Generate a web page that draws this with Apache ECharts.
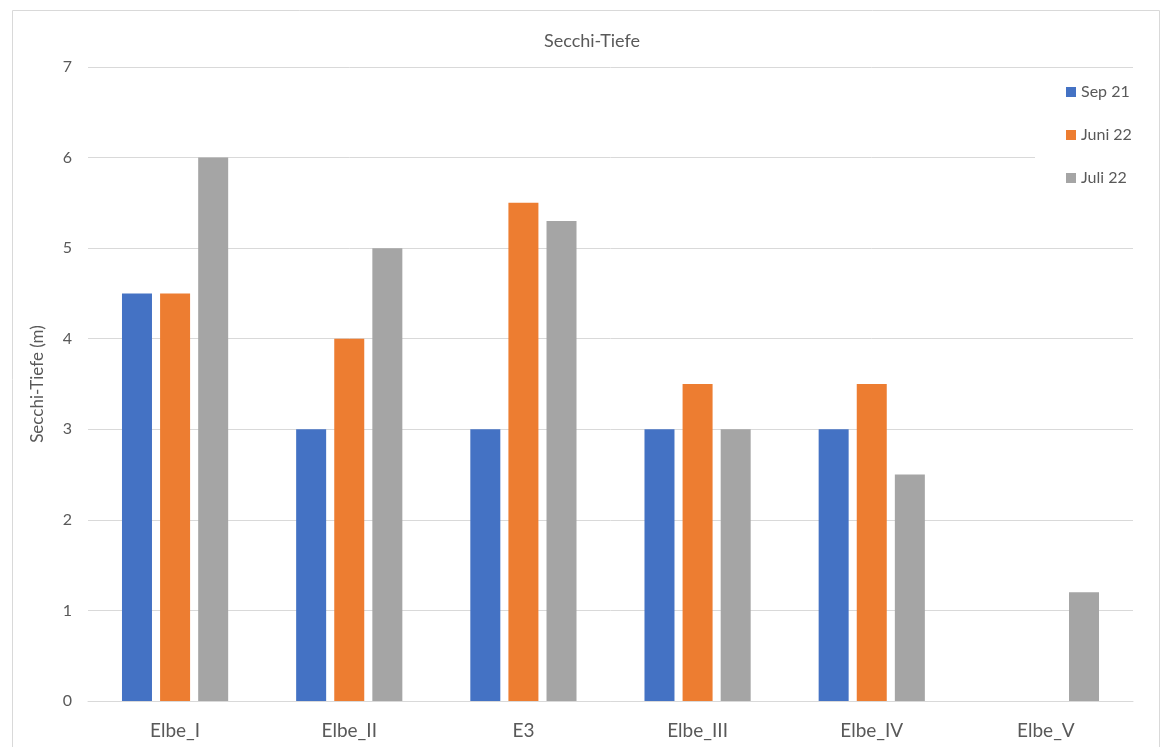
<!DOCTYPE html>
<html><head><meta charset="utf-8">
<script src="https://cdn.jsdelivr.net/npm/echarts@6/dist/echarts.min.js"></script>
<style>html,body{margin:0;padding:0;background:#fff}#c{width:1162px;height:747px}</style>
</head><body><div id="c"></div>
<script>
const categories = ['Elbe_I', 'Elbe_II', 'E3', 'Elbe_III', 'Elbe_IV', 'Elbe_V'];
const sep21 = [4.5, 3, 3, 3, 3, null];
const juni22 = [4.5, 4, 5.5, 3.5, 3.5, null];
const juli22 = [6, 5, 5.3, 3, 2.5, 1.2];
const seriesNames = ['Sep 21', 'Juni 22', 'Juli 22'];
const colors = ['#4472C4', '#ED7D31', '#A5A5A5'];
const font = 'Lato, "Open Sans", sans-serif';
const chart = echarts.init(document.getElementById('c'), null, {renderer: 'canvas'});
const dataSets = [sep21, juni22, juli22];
chart.setOption({
  animation: false,
  color: colors,
  graphic: [{type: 'rect', left: 10, top: 8, shape: {width: 1147, height: 760}, style: {fill: 'none', stroke: '#D9D9D9', lineWidth: 1}, silent: true}],
  title: {text: 'Secchi-Tiefe', left: 587, textAlign: 'center', top: 27, textStyle: {fontFamily: font, fontSize: 18, fontWeight: 'normal', color: '#595959'}},
  legend: {orient: 'vertical', left: 1035, top: 74, backgroundColor: '#fff', padding: [9, 20, 14, 31], icon: 'rect', itemWidth: 10, itemHeight: 10, itemGap: 25,
    textStyle: {fontFamily: font, fontSize: 16, color: '#595959', lineHeight: 18}, data: seriesNames},
  grid: {left: 88, right: 29, top: 67, bottom: 46, containLabel: false},
  xAxis: {type: 'category', data: categories, axisLine: {lineStyle: {color: '#D9D9D9'}}, axisTick: {show: false},
    axisLabel: {fontFamily: font, fontSize: 19, color: '#595959', margin: 20}},
  yAxis: {type: 'value', min: 0, max: 7, interval: 1, name: 'Secchi-Tiefe (m)', nameLocation: 'middle', nameGap: 42,
    nameTextStyle: {fontFamily: font, fontSize: 17, color: '#595959'},
    axisLine: {show: false}, axisTick: {show: false}, splitLine: {lineStyle: {color: '#D9D9D9'}},
    axisLabel: {fontFamily: font, fontSize: 16, color: '#595959', margin: 16}},
  series: dataSets.map((d, i) => ({name: seriesNames[i], type: 'bar', data: d, barWidth: 30, barGap: '27%', z: 1}))
});
</script></body></html>
